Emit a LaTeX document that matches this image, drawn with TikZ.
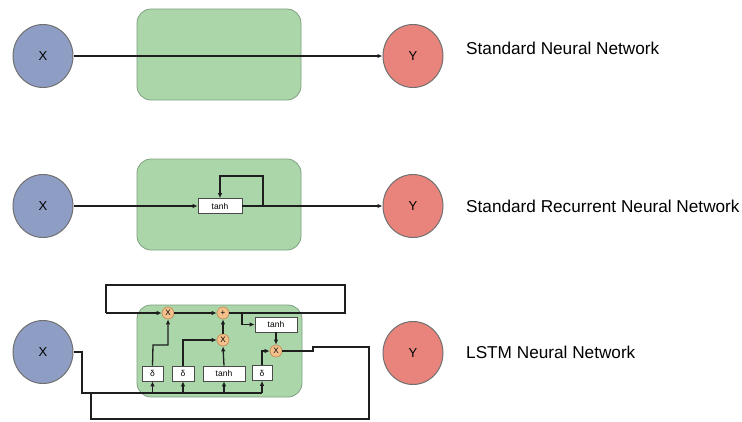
\documentclass[tikz,border=0pt]{standalone}
\usepackage{fontspec}
\setmainfont{Liberation Sans}
\usetikzlibrary{shapes.geometric,arrows.meta}
\definecolor{xblue}{HTML}{8E9DC4}
\definecolor{yred}{HTML}{E8847B}
\definecolor{cellgreen}{HTML}{AAD6AA}
\definecolor{cellborder}{HTML}{7FA080}
\definecolor{gateorange}{HTML}{F4C08C}
\definecolor{gateborder}{HTML}{C88E58}
\definecolor{rim}{HTML}{707070}
\definecolor{wire}{HTML}{1E1E1E}
\begin{document}
\begin{tikzpicture}[x=1pt,y=-1pt,
  io/.style={ellipse, draw=rim, line width=1pt, minimum width=60pt, minimum height=63pt, inner sep=0pt, font=\fontsize{13}{13}\selectfont},
  xin/.style={io, fill=xblue},
  yout/.style={io, fill=yred},
  cell/.style={draw=cellborder, fill=cellgreen, line width=0.8pt, rounded corners=14pt},
  opbox/.style={draw=wire!80, fill=white, line width=0.7pt, inner sep=0pt, minimum height=15pt, font=\fontsize{8.5}{8.5}\selectfont},
  gate/.style={circle, draw=gateborder, fill=gateorange, line width=0.7pt, minimum size=12pt, inner sep=0pt, font=\fontsize{8}{8}\selectfont},
  caption/.style={anchor=west, inner sep=0pt, font=\fontsize{17.2}{17.2}\selectfont},
  link/.style={draw=wire, line width=1.3pt},
  flow/.style={link, -{Latex[length=5pt,width=4.5pt]}},
]
\useasboundingbox (0,0) rectangle (742,421);

% ---------- standard neural network ----------
\draw[cell] (137,9) rectangle (301,100);
\node[xin]  (x1) at (43,56)  {X};
\node[yout] (y1) at (413,56) {Y};
\draw[flow] (x1) -- (y1);
\node[caption] (c1) at (466,48) {Standard Neural Network};

% ---------- standard recurrent neural network ----------
\draw[cell] (137,159) rectangle (301,250);
\node[xin]  (x2) at (43,206)  {X};
\node[yout] (y2) at (413,206) {Y};
\node[opbox, minimum width=44pt] (t2) at (220,206) {tanh};
\coordinate (r2) at (263,206);
\draw[flow] (x2) -- (t2);
\draw[flow] (t2) -- (y2);
\draw[flow] (r2) -- (263,176) -| (t2.north);
\node[caption] (c2) at (466,206) {Standard Recurrent Neural Network};

% ---------- LSTM ----------
\draw[cell] (137,305) rectangle (302,397);
\node[xin]  (x3) at (43,352)  {X};
\node[yout] (y3) at (413,353) {Y};
\node[caption] (c3) at (466,352) {LSTM Neural Network};

% pointwise operations
\node[gate] (f)  at (168,313) {X};
\node[gate] (pl) at (223,313) {+};
\node[gate] (i)  at (223,340) {X};
\node[gate] (o)  at (276,351) {X};
\node[opbox, minimum width=42pt] (tc) at (276,324.5) {tanh};

% layers
\node[opbox, minimum width=21pt] (s1) at (152.5,373.5) {δ};
\node[opbox, minimum width=22pt] (s2) at (183,373.5)   {δ};
\node[opbox, minimum width=42pt] (tn) at (224,373.5)   {tanh};
\node[opbox, minimum width=20pt] (s3) at (262,373)     {δ};

% cell state loop
\coordinate (cb) at (242,313);
\draw[link] (pl) -- (345,313) -- (345,285) -- (106,285) -- (106,313);
\draw[flow] (106,313) -- (f);
\draw[flow] (f) -- (pl);
\draw[flow] (cb) |- (tc.west);
\draw[flow] (tc) -- (o);

% input bus
\coordinate (bus) at (262,393);
\draw[link] (x3.east) -- (82,352) -- (82,393) -- (bus);
\draw[link] (o) -- (313,351) -- (313,347) -- (369,347) -- (369,419) -- (91,419) -- (91,393);
\draw[flow] (s1.south |- bus) -- (s1.south);
\draw[flow] (s2.south |- bus) -- (s2.south);
\draw[flow] (tn.south |- bus) -- (tn.south);
\draw[flow] (bus) -- (s3.south);

% gate signals
\draw[flow] (s1.north) -- (153,345) -| (f.south);
\draw[flow] (s2.north) |- (i.west);
\draw[flow] (tn.north) -- (i.south);
\draw[flow] (i) -- (pl);
\draw[flow] (s3.north) |- (o.west);
\end{tikzpicture}
\end{document}
